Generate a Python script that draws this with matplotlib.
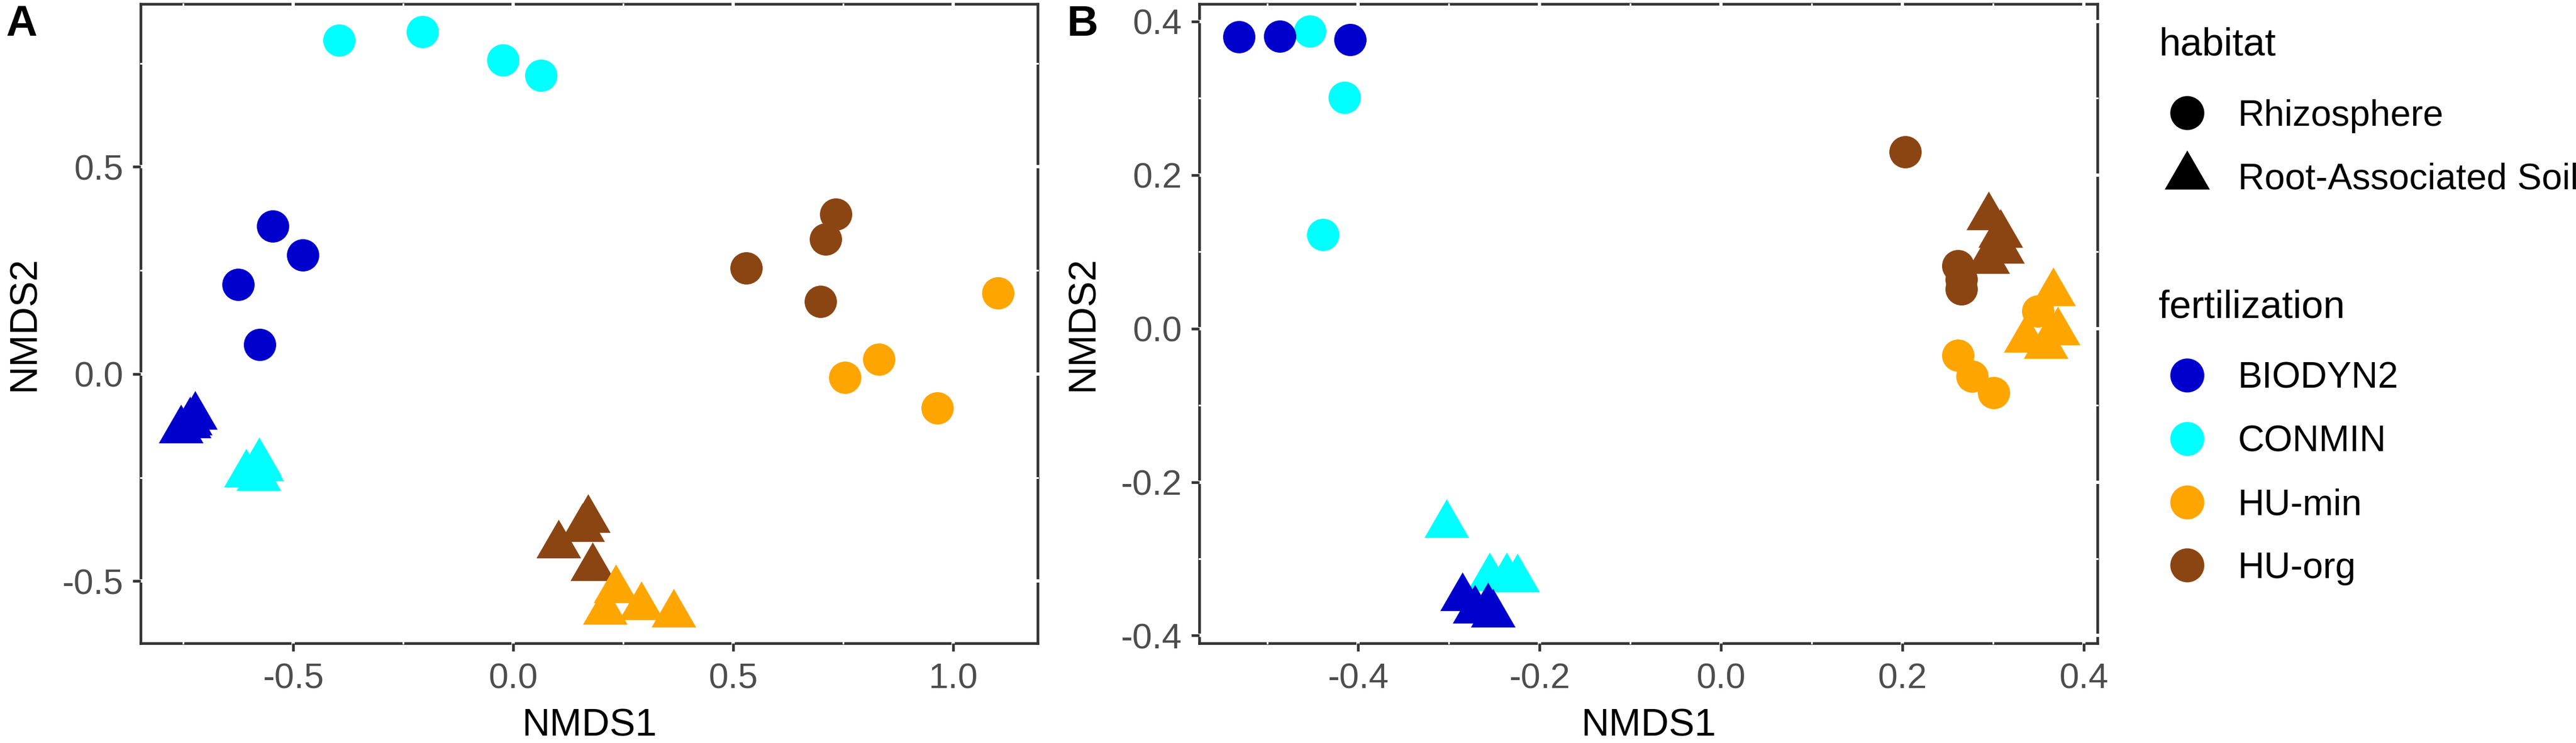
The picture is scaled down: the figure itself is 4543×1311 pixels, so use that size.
import matplotlib
matplotlib.use("Agg")
from matplotlib import pyplot as plt
from matplotlib.lines import Line2D
from matplotlib.path import Path
import numpy as np

plt.rcParams["font.family"] = ["Liberation Sans", "DejaVu Sans"]

W, H = 4543, 1311
DPI = 100

# panel A
a_rhizo = {
    "CONMIN": ([-0.396, -0.206, -0.023, 0.063], [0.805, 0.826, 0.757, 0.720]),
    "BIODYN2": ([-0.547, -0.479, -0.625, -0.576], [0.357, 0.287, 0.216, 0.071]),
    "HU-org": ([0.733, 0.710, 0.530, 0.699], [0.386, 0.326, 0.255, 0.175]),
    "HU-min": ([1.102, 0.831, 0.754, 0.964], [0.195, 0.035, -0.009, -0.082]),
}
a_soil = {
    "CONMIN": ([-0.578, -0.573, -0.607, -0.579], [-0.215, -0.227, -0.242, -0.251]),
    "BIODYN2": ([-0.723, -0.735, -0.737, -0.756], [-0.103, -0.117, -0.123, -0.136]),
    "HU-org": ([0.170, 0.157, 0.103, 0.180], [-0.352, -0.374, -0.414, -0.468]),
    "HU-min": ([0.233, 0.291, 0.209, 0.365], [-0.521, -0.563, -0.573, -0.580]),
}

# panel B
b_rhizo = {
    "CONMIN": ([-0.453, -0.415, -0.4385], [0.387, 0.301, 0.122]),
    "BIODYN2": ([-0.531, -0.486, -0.409], [0.380, 0.381, 0.3765]),
    "HU-org": ([0.203, 0.261, 0.265, 0.265], [0.2298, 0.0816, 0.0637, 0.0513]),
    "HU-min": ([0.3496, 0.2615, 0.2767, 0.3008], [0.0223, -0.0349, -0.0624, -0.0836]),
}
b_soil = {
    "CONMIN": ([-0.3025, -0.255, -0.2365, -0.2246], [-0.256, -0.325, -0.325, -0.3266]),
    "BIODYN2": ([-0.285, -0.271, -0.257, -0.251], [-0.351, -0.367, -0.364, -0.372]),
    "HU-org": ([0.295, 0.308, 0.310, 0.294], [0.145, 0.122, 0.102, 0.088]),
    "HU-min": ([0.366, 0.371, 0.336, 0.358], [0.046, -0.0045, -0.014, -0.0225]),
}

draw_order = ["CONMIN", "BIODYN2", "HU-org", "HU-min"]
legend_order = ["BIODYN2", "CONMIN", "HU-min", "HU-org"]
colors = {"BIODYN2": "#0000CD", "CONMIN": "#00FFFF", "HU-min": "#FFA500", "HU-org": "#8B4513"}

a_xticks = [-0.5, 0.0, 0.5, 1.0]
a_xminor = [-0.75, -0.25, 0.25, 0.75]
a_yticks = [-0.5, 0.0, 0.5]
a_yminor = [-0.25, 0.25, 0.75]
b_xticks = [-0.4, -0.2, 0.0, 0.2, 0.4]
b_xminor = [-0.5, -0.3, -0.1, 0.1, 0.3]
b_yticks = [-0.4, -0.2, 0.0, 0.2, 0.4]
b_yminor = [-0.3, -0.1, 0.1, 0.3]

# equilateral triangle with the centre on the centroid, like R's shape 17
triangle = Path([(-1, -0.577), (1, -0.577), (0, 1.155), (-1, -0.577)], closed=True)

CIRCLE_MS = 57 * 72 / DPI
TRI_MS = 91 * 72 / DPI
DARK = "#333333"


def panel(box, rhizo, soil, xlim, ylim, xt, xm, yt, ym, tag, tag_x):
    left, right, top, bottom = box
    ax = fig.add_axes([left / W, 1 - bottom / H, (right - left) / W, (bottom - top) / H])
    for name in draw_order:
        ax.scatter(*soil[name], s=TRI_MS**2, marker=triangle, color=colors[name],
                   linewidths=0, zorder=3, clip_on=False)
        ax.scatter(*rhizo[name], s=CIRCLE_MS**2, marker="o", color=colors[name],
                   linewidths=0, zorder=3, clip_on=False)
    ax.set_xlim(*xlim)
    ax.set_ylim(*ylim)
    ax.set_xticks(xt)
    ax.set_yticks(yt)
    ax.set_xticks(xm, minor=True)
    ax.set_yticks(ym, minor=True)
    ax.set_xticklabels(["%.1f" % v for v in xt])
    ax.set_yticklabels(["%.1f" % v for v in yt])
    ax.tick_params(which="major", length=10, width=3.4, color=DARK, labelcolor="#4D4D4D",
                   labelsize=45)
    ax.tick_params(axis="x", which="major", pad=14)
    ax.tick_params(axis="y", which="major", pad=12)
    ax.tick_params(which="minor", length=0)
    # the white grid cuts through the frame in the original
    ax.set_axisbelow(True)
    for s in ax.spines.values():
        s.set_color(DARK)
        s.set_linewidth(3.4)
        s.set_zorder(0.1)
    ax.grid(which="major", color="white", linewidth=4.2, clip_on=False)
    ax.grid(which="minor", color="white", linewidth=2.2, clip_on=False)
    ax.set_xlabel("NMDS1", fontsize=49, color="black", labelpad=15)
    ax.set_ylabel("NMDS2", fontsize=49, color="black", labelpad=25)
    fig.text(tag_x / W, 1 - 63 / H, tag, fontsize=55, fontweight="bold", color="black",
             ha="left", va="baseline")
    return ax


fig = plt.figure(figsize=(W / DPI, H / DPI), dpi=DPI, facecolor="white")

panel((248, 1830, 7, 1135), a_rhizo, a_soil, (-0.847, 1.192), (-0.650, 0.893),
      a_xticks, a_xminor, a_yticks, a_yminor, "A", 10)
panel((2115, 3699, 7, 1135), b_rhizo, b_soil, (-0.575, 0.415), (-0.410, 0.4228),
      b_xticks, b_xminor, b_yticks, b_yminor, "B", 1882)

habitat_handles = [
    Line2D([], [], linestyle="none", marker="o", markersize=60 * 72 / DPI, color="black",
           markeredgewidth=0, label="Rhizosphere"),
    Line2D([], [], linestyle="none", marker=triangle, markersize=92 * 72 / DPI, color="black",
           markeredgewidth=0, label="Root-Associated Soil"),
]
fert_handles = [
    Line2D([], [], linestyle="none", marker="o", markersize=60 * 72 / DPI, color=colors[n],
           markeredgewidth=0, label=n)
    for n in legend_order
]

common = dict(loc="upper left", frameon=False, fontsize=46.5, title_fontsize=49.5,
              alignment="left", borderpad=0, borderaxespad=0, handlelength=1.55,
              handletextpad=0.62, labelspacing=0.80, labelcolor="black")
leg1 = fig.legend(handles=habitat_handles, title="habitat", bbox_to_anchor=(3807 / W, 1 - 47 / H), **common)
leg2 = fig.legend(handles=fert_handles, title="fertilization", bbox_to_anchor=(3807 / W, 1 - 510 / H), **common)
# more room under the legend titles
leg1._legend_box.sep = 46
leg2._legend_box.sep = 46

fig.savefig("out.png", dpi=DPI, facecolor="white")
